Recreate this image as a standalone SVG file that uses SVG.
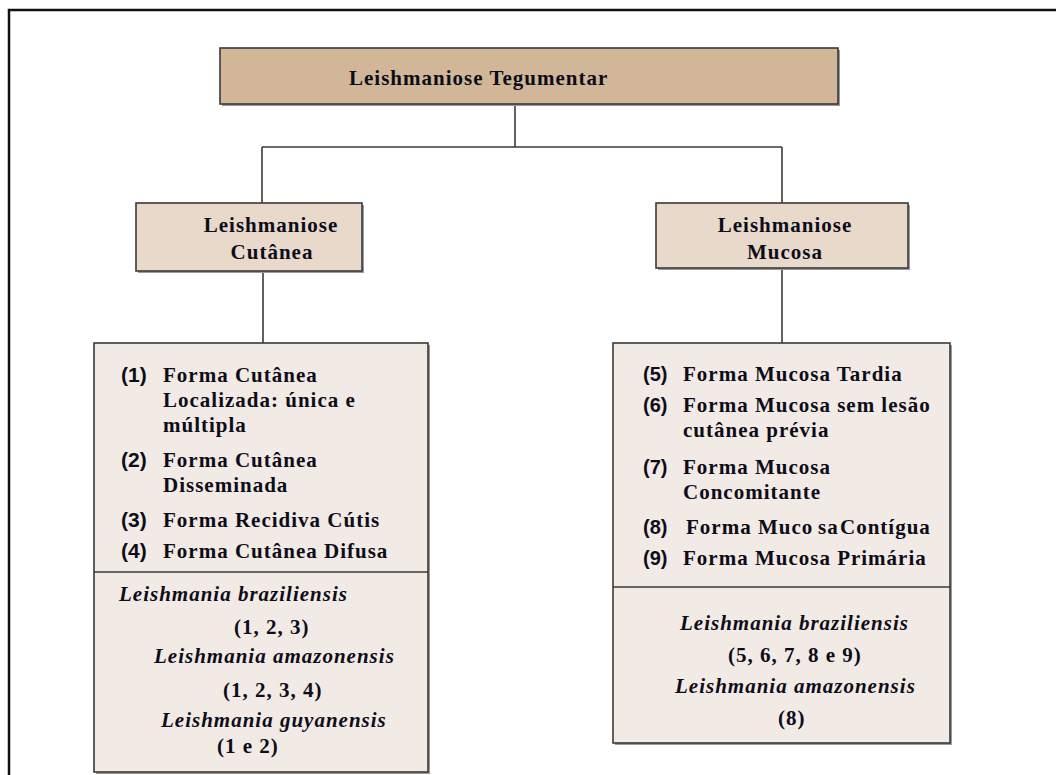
<svg xmlns="http://www.w3.org/2000/svg" width="1056" height="775" viewBox="0 0 1056 775">
<style>
.box{stroke:#3a3a3a;stroke-width:1.6}
.sh{fill:#9a9a9a}
.conn{stroke:#3a3a3a;stroke-width:1.6;fill:none}
.t{font-family:"Liberation Serif","Times New Roman",serif;font-weight:bold;font-size:21px;letter-spacing:1px;fill:#0d0d1a}
.i{font-style:italic}
.n{font-family:"Liberation Sans",Arial,sans-serif;font-weight:bold;font-size:21px;fill:#0d0d1a}
.c{text-anchor:middle}
</style>
<rect x="9" y="10" width="1060" height="780" fill="#fff" stroke="#111" stroke-width="2.5"/>
<g id="connectors">
<line class="conn" x1="515" y1="104" x2="515" y2="147"/>
<line class="conn" x1="262" y1="147" x2="782" y2="147"/>
<line class="conn" x1="262" y1="147" x2="262" y2="203"/>
<line class="conn" x1="782" y1="147" x2="782" y2="203"/>
<line class="conn" x1="263" y1="271" x2="263" y2="343"/>
<line class="conn" x1="782" y1="268" x2="782" y2="343"/>
</g>
<g id="tegumentar">
<rect class="sh" x="222" y="50" width="618" height="56"/>
<rect class="box" x="220" y="48" width="618" height="56" fill="#D2B698"/>
<text class="t" x="349" y="85">Leishmaniose Tegumentar</text>
</g>
<g id="cutanea">
<rect class="sh" x="138" y="205" width="226" height="68"/>
<rect class="box" x="136" y="203" width="226" height="68" fill="#E8D9CB"/>
<text class="t c" x="271" y="232">Leishmaniose</text>
<text class="t c" x="272" y="259">Cutânea</text>
</g>
<g id="mucosa">
<rect class="sh" x="658" y="205" width="252" height="65"/>
<rect class="box" x="656" y="203" width="252" height="65" fill="#E8D9CB"/>
<text class="t c" x="785" y="232">Leishmaniose</text>
<text class="t c" x="785" y="259">Mucosa</text>
</g>
<g id="formas-cutaneas">
<rect class="sh" x="96" y="345" width="334" height="429"/>
<rect class="box" x="94" y="343" width="334" height="429" fill="#F2EAE5"/>
<line class="box" x1="94" y1="572" x2="428" y2="572"/>
<text class="n" x="121" y="382">(1)</text>
<text class="t" x="163" y="382">Forma Cutânea</text>
<text class="t" x="163" y="407">Localizada: única e</text>
<text class="t" x="163" y="432">múltipla</text>
<text class="n" x="121" y="467">(2)</text>
<text class="t" x="163" y="467">Forma Cutânea</text>
<text class="t" x="163" y="492">Disseminada</text>
<text class="n" x="121" y="527">(3)</text>
<text class="t" x="163" y="527">Forma Recidiva Cútis</text>
<text class="n" x="121" y="558">(4)</text>
<text class="t" x="163" y="558">Forma Cutânea Difusa</text>
<text class="t i" x="119" y="601">Leishmania braziliensis</text>
<text class="t" x="234" y="634">(1, 2, 3)</text>
<text class="t i" x="154" y="663">Leishmania amazonensis</text>
<text class="t" x="223" y="697">(1, 2, 3, 4)</text>
<text class="t i" x="161" y="727">Leishmania guyanensis</text>
<text class="t" x="217" y="753">(1 e 2)</text>
</g>
<g id="formas-mucosas">
<rect class="sh" x="615" y="345" width="337" height="400"/>
<rect class="box" x="613" y="343" width="337" height="400" fill="#F2EAE5"/>
<line class="box" x1="613" y1="587" x2="950" y2="587"/>
<text class="n" x="643" y="381" style="font-size:20px">(5)</text>
<text class="t" x="683" y="381">Forma Mucosa Tardia</text>
<text class="n" x="643" y="412" style="font-size:20px">(6)</text>
<text class="t" x="683" y="412">Forma Mucosa sem lesão</text>
<text class="t" x="683" y="437">cutânea prévia</text>
<text class="n" x="643" y="474" style="font-size:20px">(7)</text>
<text class="t" x="683" y="474">Forma Mucosa</text>
<text class="t" x="683" y="499">Concomitante</text>
<text class="n" x="643" y="534" style="font-size:20px">(8)</text>
<text class="t" x="686" y="534">Forma Muco<tspan x="818">sa</tspan><tspan x="840">Contígua</tspan></text>
<text class="n" x="643" y="565" style="font-size:20px">(9)</text>
<text class="t" x="683" y="565">Forma Mucosa Primária</text>
<text class="t i" x="680" y="630">Leishmania braziliensis</text>
<text class="t" x="728" y="662">(5, 6, 7, 8 e 9)</text>
<text class="t i" x="675" y="693">Leishmania amazonensis</text>
<text class="t" x="778" y="725">(8)</text>
</g>
</svg>
